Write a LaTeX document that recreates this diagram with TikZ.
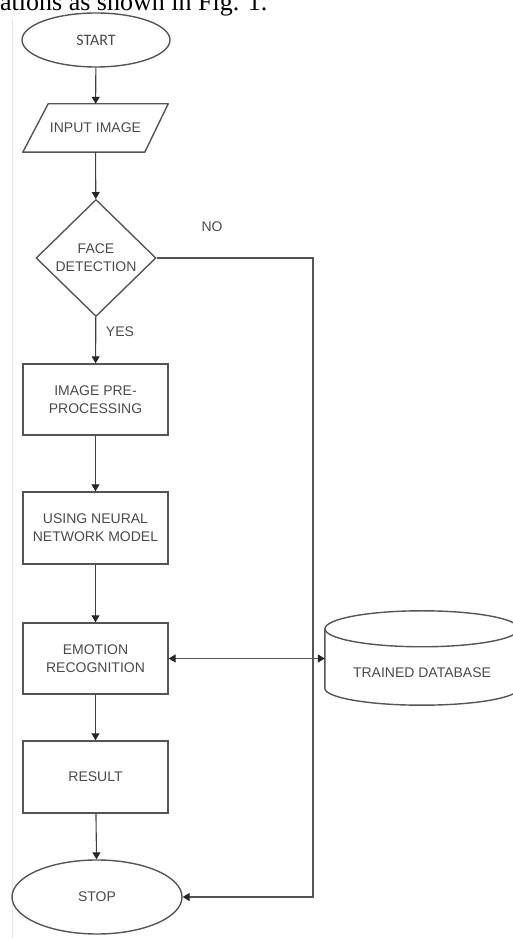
\documentclass[tikz,border=0pt]{standalone}
\usepackage{fontspec}
\setmainfont{Liberation Sans}
\newfontfamily\hdrfont{Liberation Serif}
\newfontfamily\startfont{Carlito}
\usetikzlibrary{shapes.geometric,arrows.meta}
\definecolor{ln}{HTML}{555555}
\definecolor{cn}{HTML}{404040}
\definecolor{tx}{HTML}{4A4A4A}
\begin{document}
\begin{tikzpicture}[x=1pt,y=1pt,
  every node/.style={font=\fontsize{14}{18}\selectfont, text=tx, align=center, inner sep=0pt},
  shp/.style={draw=ln, line width=1.4pt},
  box/.style={shp, rectangle, minimum width=145pt, minimum height=71pt},
  term/.style={shp, ellipse},
  tip/.tip={Triangle[width=8pt,length=7pt,fill=black!85,color=black!85]},
  arr/.style={draw=cn, line width=1.1pt, -tip}]
\useasboundingbox (0,0) rectangle (513,938);
\clip (0,0) rectangle (513,938);
% faint page edge
\draw[gray!22, line width=0.6pt] (12,0) -- (12,918);
% header text
\node[anchor=base west, font=\hdrfont\fontsize{26}{30}\selectfont, text=black] (hdr) at (0,927) {ations as shown in Fig. 1.};
% nodes
\node[term, minimum width=148pt, minimum height=54pt, font=\startfont\fontsize{16}{18}\selectfont] (start) at (96,898) {START};
\node[minimum width=145pt, minimum height=48pt] (input) at (95.5,810) {INPUT IMAGE};
\draw[shp, line join=round] (input.south west) -- ++(122,0) -- (input.north east) -- ++(-120,0) -- cycle;
\node[shp, diamond, minimum width=120pt, minimum height=117pt] (face) at (96,680) {FACE\\DETECTION};
\node[box] (pre) at (95.5,538.5) {IMAGE PRE-\\PROCESSING};
\node[box, minimum height=72pt] (nn) at (95.5,410) {USING NEURAL\\NETWORK MODEL};
\node[box] (emo) at (95.5,279.5) {EMOTION\\RECOGNITION};
\node[box, minimum height=72pt] (res) at (95.5,161) {RESULT};
\node[term, minimum width=170pt, minimum height=74pt] (stop) at (97,41) {STOP};
% database cylinder
\node[minimum width=194pt, minimum height=59pt] (db) at (422,279.5) {};
\draw[shp] (db.north) ellipse [x radius=97, y radius=18];
\draw[shp] (db.north west) -- (db.south west) arc [start angle=180, end angle=360, x radius=97, y radius=17] -- (db.north east);
\node (dbt) at (422,265) {TRAINED DATABASE};
% labels
\node (no) at (212,711) {NO};
\node (yes) at (120,606) {YES};
% connectors
\draw[arr] (start) -- (input);
\draw[arr] (input) -- (face);
\draw[arr] (face) -- (pre);
\draw[arr] (pre) -- (nn);
\draw[arr] (nn) -- (emo);
\draw[arr] (emo) -- (res);
\draw[arr] (res) -- (stop);
\draw[arr, line width=1.4pt, draw=ln, tip-tip] (emo.east) -- (db.west);
\coordinate (fb) at (313,680);
\draw[arr, line width=1.4pt, draw=ln] (face.east) -- (fb) |- (stop.east);
\end{tikzpicture}
\end{document}
